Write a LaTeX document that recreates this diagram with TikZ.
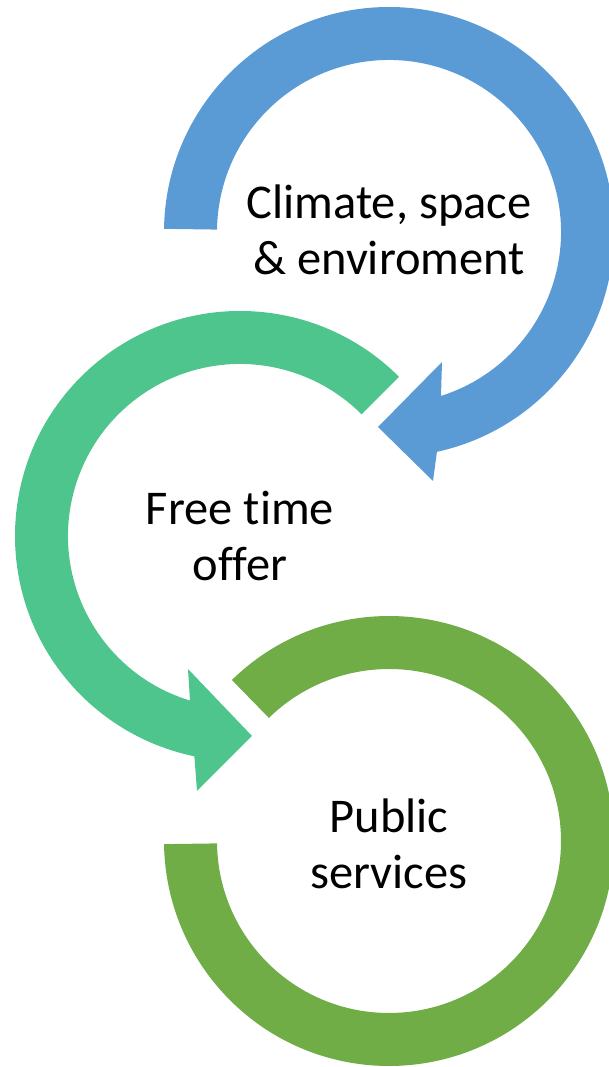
\documentclass[tikz,border=0pt]{standalone}
\usepackage{fontspec}
\setmainfont[Ligatures=NoCommon]{Carlito}
\usetikzlibrary{calc}
\definecolor{cblue}{HTML}{5B9BD5}
\definecolor{cteal}{HTML}{4FC58E}
\definecolor{cgreen}{HTML}{70AD47}
\begin{document}
\begin{tikzpicture}[x=1pt,y=1pt,
  txt/.style={align=center, font=\fontsize{48.5}{56}\selectfont, inner sep=0pt, text=black}]
\useasboundingbox (0,0) rectangle (609,1067);
\clip (0,0) rectangle (609,1067);
\coordinate (cb) at (389,835);
\coordinate (ct) at (240,531);
\coordinate (cg) at (389,226);
% blue arrow
\fill[cblue] ($(cb)+(179.2:225)$) arc[start angle=179.2, end angle=-77.7, radius=225]
  -- (433,586) -- (378,640) -- (442,705)
  -- ($(cb)+(-72.4:172)$) arc[start angle=-72.4, end angle=179.2, radius=172] -- cycle;
% teal arrow
\fill[cteal] ($(ct)+(45:225)$) arc[start angle=45, end angle=258.3, radius=225]
  -- (197,276) -- (252,331) -- (188,398)
  -- ($(ct)+(253.1:172)$) arc[start angle=253.1, end angle=45, radius=172] -- cycle;
% green arc
\fill[cgreen] ($(cg)+(134.3:225)$) arc[start angle=134.3, end angle=-179.2, radius=225]
  -- ($(cg)+(-179.2:172)$) arc[start angle=-179.2, end angle=134.3, radius=172] -- cycle;
\node[txt] (climate) at ([yshift=2]cb) {Climate, space\\\& enviroment};
\node[txt] (free) at (ct) {Free time\\offer};
\node[txt] (public) at ([yshift=-3]cg) {Public\\services};
\end{tikzpicture}
\end{document}
